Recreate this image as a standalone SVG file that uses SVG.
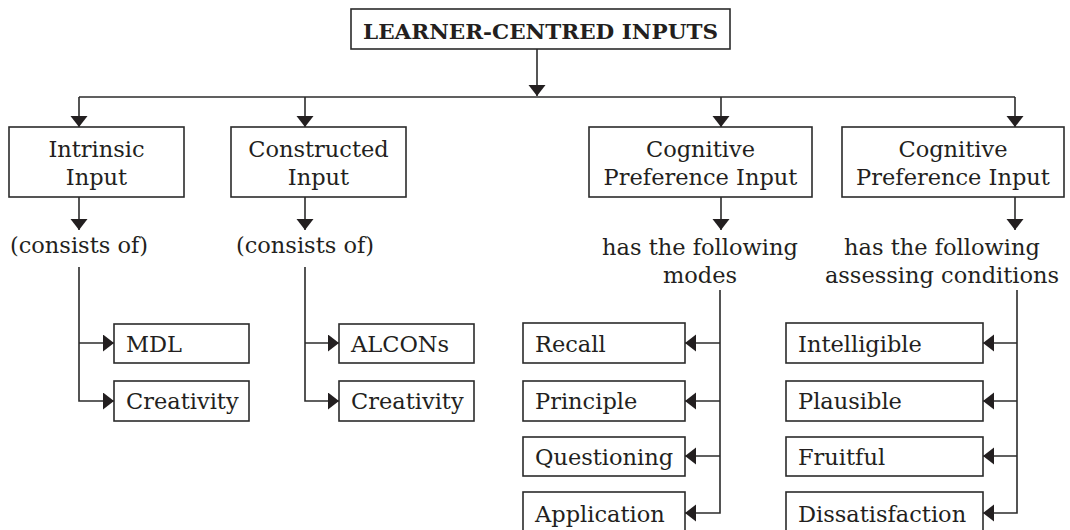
<svg xmlns="http://www.w3.org/2000/svg" width="1070" height="530" viewBox="0 0 1070 530">
<style>
  .box { fill: #fff; stroke: #2b2b2b; stroke-width: 1.6; }
  .t { font-family: "DejaVu Serif", "Liberation Serif", serif; font-size: 22.5px; fill: #231f20; }
  .c { text-anchor: middle; }
  .title { font-family: "DejaVu Serif", "Liberation Serif", serif; font-size: 21px; font-weight: bold; fill: #231f20; text-anchor: middle; }
  .ln { fill: none; stroke: #2b2b2b; stroke-width: 1.6; }
  .ar { fill: none; stroke: #2b2b2b; stroke-width: 1.6; marker-end: url(#ah); }
</style>
<defs>
  <marker id="ah" markerUnits="userSpaceOnUse" markerWidth="12" markerHeight="18" refX="11" refY="8.5" orient="auto">
    <path d="M0,0 L11,8.5 L0,17 z" fill="#231f20"/>
  </marker>
</defs>
<rect width="1070" height="530" fill="#fff"/>

<g id="connectors">
  <path class="ar" d="M537,49 V96"/>
  <path class="ln" d="M79,97 H1015"/>
  <path class="ar" d="M79,97 V127"/>
  <path class="ar" d="M305,97 V127"/>
  <path class="ar" d="M721,97 V127"/>
  <path class="ar" d="M1015,97 V127"/>
  <path class="ar" d="M79,197 V230"/>
  <path class="ar" d="M305,197 V230"/>
  <path class="ar" d="M721,197 V230"/>
  <path class="ar" d="M1015,197 V230"/>
  <path class="ar" d="M79,267 V401 H114"/>
  <path class="ar" d="M79,343 H114"/>
  <path class="ar" d="M305,267 V401 H339"/>
  <path class="ar" d="M305,343 H339"/>
  <path class="ar" d="M720,290 V513 H685"/>
  <path class="ar" d="M720,343 H685"/>
  <path class="ar" d="M720,401 H685"/>
  <path class="ar" d="M720,456 H685"/>
  <path class="ar" d="M1017,290 V513 H983"/>
  <path class="ar" d="M1017,343 H983"/>
  <path class="ar" d="M1017,401 H983"/>
  <path class="ar" d="M1017,456 H983"/>
</g>

<g id="root">
  <rect class="box" x="351" y="9" width="379" height="40"/>
  <text class="title" x="540.5" y="39" textLength="355" lengthAdjust="spacingAndGlyphs">LEARNER-CENTRED INPUTS</text>
</g>

<g id="intrinsic">
  <rect class="box" x="9" y="127" width="175" height="70"/>
  <text class="t c" x="96.5" y="157">Intrinsic</text>
  <text class="t c" x="96.5" y="185">Input</text>
</g>
<g id="constructed">
  <rect class="box" x="231" y="127" width="175" height="70"/>
  <text class="t c" x="318.5" y="157">Constructed</text>
  <text class="t c" x="318.5" y="185">Input</text>
</g>
<g id="cognitive1">
  <rect class="box" x="589" y="127" width="223" height="70"/>
  <text class="t c" x="700.5" y="157">Cognitive</text>
  <text class="t c" x="700.5" y="185">Preference Input</text>
</g>
<g id="cognitive2">
  <rect class="box" x="842" y="127" width="222" height="70"/>
  <text class="t c" x="953" y="157">Cognitive</text>
  <text class="t c" x="953" y="185">Preference Input</text>
</g>

<g id="label-consists1"><text class="t c" x="79" y="253">(consists of)</text></g>
<g id="label-consists2"><text class="t c" x="305" y="253">(consists of)</text></g>
<g id="label-modes">
  <text class="t c" x="700" y="255">has the following</text>
  <text class="t c" x="700" y="283">modes</text>
</g>
<g id="label-conditions">
  <text class="t c" x="942" y="255">has the following</text>
  <text class="t c" x="942" y="283">assessing conditions</text>
</g>

<g id="mdl"><rect class="box" x="114" y="324" width="135" height="39"/><text class="t" x="126" y="352">MDL</text></g>
<g id="creativity1"><rect class="box" x="114" y="381" width="135" height="40"/><text class="t" x="126" y="409">Creativity</text></g>
<g id="alcons"><rect class="box" x="339" y="324" width="135" height="39"/><text class="t" x="351" y="352">ALCONs</text></g>
<g id="creativity2"><rect class="box" x="339" y="381" width="135" height="40"/><text class="t" x="351" y="409">Creativity</text></g>

<g id="recall"><rect class="box" x="523" y="323" width="162" height="40"/><text class="t" x="535" y="352">Recall</text></g>
<g id="principle"><rect class="box" x="523" y="381" width="162" height="40"/><text class="t" x="535" y="409">Principle</text></g>
<g id="questioning"><rect class="box" x="523" y="437" width="162" height="39"/><text class="t" x="535" y="465">Questioning</text></g>
<g id="application"><rect class="box" x="523" y="492" width="162" height="42"/><text class="t" x="535" y="522">Application</text></g>

<g id="intelligible"><rect class="box" x="786" y="323" width="197" height="40"/><text class="t" x="798" y="352">Intelligible</text></g>
<g id="plausible"><rect class="box" x="786" y="381" width="197" height="40"/><text class="t" x="798" y="409">Plausible</text></g>
<g id="fruitful"><rect class="box" x="786" y="437" width="197" height="39"/><text class="t" x="798" y="465">Fruitful</text></g>
<g id="dissatisfaction"><rect class="box" x="786" y="492" width="197" height="42"/><text class="t" x="798" y="522">Dissatisfaction</text></g>
</svg>
